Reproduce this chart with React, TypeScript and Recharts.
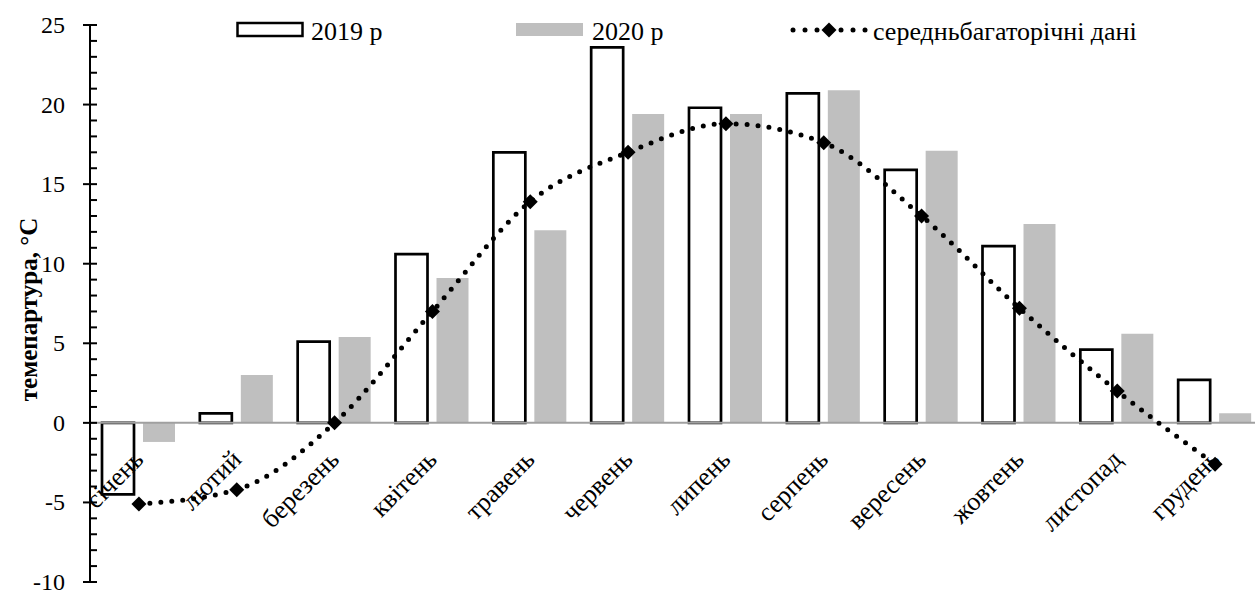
import React from 'react';
import { ComposedChart, Bar, Line, XAxis, YAxis, ReferenceLine } from 'recharts';

const months = ['січень', 'лютий', 'березень', 'квітень', 'травень', 'червень', 'липень', 'серпень', 'вересень', 'жовтень', 'листопад', 'грудень'];
const temp2019 = [-4.5, 0.6, 5.1, 10.6, 17.0, 23.6, 19.8, 20.7, 15.9, 11.1, 4.6, 2.7];
const temp2020 = [-1.2, 3.0, 5.4, 9.1, 12.1, 19.4, 19.4, 20.9, 17.1, 12.5, 5.6, 0.6];
const longTerm = [-5.1, -4.2, 0.0, 7.0, 13.9, 17.0, 18.8, 17.6, 13.0, 7.2, 2.0, -2.6];
const seriesNames = ['2019 р', '2020 р', 'середньбагаторічні дані'];
const yTicks = Array.from({ length: 36 }, (_, i) => i - 10);

const data = months.map((m, i) => ({ month: m, y2019: temp2019[i], y2020: temp2020[i], avg: longTerm[i] }));

const FONT = "'Liberation Serif', 'Times New Roman', serif";
const ZERO_SHIFT = 159; // distance from bottom of plot to the zero line

const YTick = (props: any) => {
    const { x, y, payload } = props;
    const major = payload.value % 5 === 0;
    return (
        <g>
            <line x1={major ? x - 7 : x} x2={x + 7} y1={y} y2={y} stroke="#000" strokeWidth={2} />
            {major && (
                <text x={x - 25} y={y} textAnchor="end" dominantBaseline="central" fontFamily={FONT} fontSize={24} fill="#000">
                    {payload.value}
                </text>
            )}
        </g>
    );
};

const XTick = (props: any) => {
    const { x, y, payload } = props;
    const tx = x + 6;
    const ty = y - ZERO_SHIFT + 38;
    return (
        <g transform={`translate(${tx},${ty})`}>
            <text x={0} y={0} transform="rotate(-45)" textAnchor="end" fontFamily={FONT} fontSize={26} fill="#000">
                {payload.value}
            </text>
        </g>
    );
};

const Diamond = (props: any) => {
    const { cx, cy } = props;
    if (cx == null || cy == null) return null;
    return <polygon points={`${cx},${cy - 7.5} ${cx + 7.5},${cy} ${cx},${cy + 7.5} ${cx - 7.5},${cy}`} fill="#000" />;
};

function LegendBox() {
    const dots = [793, 805, 817, 841, 853, 865];
    return (
        <svg width={1255} height={60} style={{ position: 'absolute', left: 0, top: 0 }}>
            <rect x={237.5} y={23} width={65} height={13} fill="#fff" stroke="#000" strokeWidth={2.5} />
            <text x={311} y={31} dominantBaseline="central" fontFamily={FONT} fontSize={26}>{seriesNames[0]}</text>
            <rect x={516} y={23} width={67} height={13} fill="#bfbfbf" />
            <text x={592} y={31} dominantBaseline="central" fontFamily={FONT} fontSize={26}>{seriesNames[1]}</text>
            {dots.map((d) => (
                <circle key={d} cx={d} cy={30} r={2.5} fill="#000" />
            ))}
            <polygon points="829,22.5 836.5,30 829,37.5 821.5,30" fill="#000" />
            <text x={873} y={31} dominantBaseline="central" fontFamily={FONT} fontSize={26}>{seriesNames[2]}</text>
        </svg>
    );
}

export default function App() {
    return (
        <div style={{ position: 'absolute', left: 0, top: 0, width: 1255, height: 592, overflow: 'hidden', background: '#fff' }}>
            <ComposedChart width={1270} height={592} data={data} margin={{ top: 25, right: 6, bottom: 0, left: 0 }} barSize={32} barGap={9}>
                <XAxis dataKey="month" interval={0} axisLine={false} tickLine={false} tickSize={0} tickMargin={0} height={10} tick={<XTick />} />
                <YAxis
                    domain={[-10, 25]}
                    ticks={yTicks}
                    interval={0}
                    width={90}
                    axisLine={{ stroke: '#000', strokeWidth: 2 }}
                    tickLine={false}
                    tickSize={0}
                    tickMargin={0}
                    tick={<YTick />}
                    label={(p: any) => {
                        const vb = p.viewBox;
                        const cx = 28;
                        const cy = vb.y + vb.height / 2 + 6;
                        return (
                            <text x={cx} y={cy} transform={`rotate(-90, ${cx}, ${cy})`} textAnchor="middle" dominantBaseline="central" fontFamily={FONT} fontSize={25} fontWeight="bold">
                                темепартура, °C
                            </text>
                        );
                    }}
                />
                <Bar dataKey="y2019" name={seriesNames[0]} fill="#fff" stroke="#000" strokeWidth={2.7} isAnimationActive={false} />
                <Bar dataKey="y2020" name={seriesNames[1]} fill="#bfbfbf" isAnimationActive={false} />
                <ReferenceLine y={0} stroke="#a0a0a0" strokeWidth={2} />
                <Line
                    type="monotone"
                    dataKey="avg"
                    name={seriesNames[2]}
                    stroke="#000"
                    strokeWidth={5}
                    strokeDasharray="0 11"
                    strokeLinecap="round"
                    dot={<Diamond />}
                    activeDot={false}
                    isAnimationActive={false}
                />
            </ComposedChart>
            <LegendBox />
        </div>
    );
}
